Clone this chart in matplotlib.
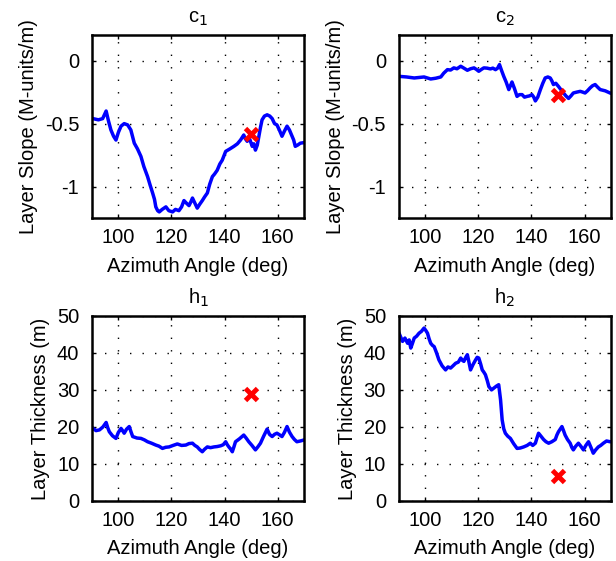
import numpy as np
import matplotlib
matplotlib.use("Agg")
import matplotlib.pyplot as plt

plt.rcParams['font.family'] = ['Liberation Sans', 'DejaVu Sans']

# layer slope c1 vs azimuth
c1_az = [90.4, 92.5, 94.1, 95.4, 96.3, 97.2, 98.2, 99.1, 100.0, 101.0, 102.2, 103.5, 104.7,
         106.0, 107.2, 108.5, 109.6, 111.0, 112.0, 112.9, 113.6, 114.1, 114.8, 115.4,
         116.5, 117.9, 119.0, 120.4, 121.5, 122.8, 123.8, 124.7, 125.6, 126.6, 127.3,
         127.9, 128.8, 129.7, 130.6, 131.6, 132.5, 133.5, 134.4, 135.4, 136.2, 137.2,
         138.2, 139.1, 140.4, 142.0, 143.5, 144.8, 146.0, 147.2, 147.8, 148.5, 149.4,
         150.4, 151.0, 151.6, 152.3, 152.9, 153.5, 154.1, 155.0, 156.0, 157.0, 157.9,
         158.8, 159.7, 160.6, 161.6, 162.5, 163.5, 164.4, 165.4, 166.0, 166.6, 167.5,
         168.5, 170.0]
c1_val = [-0.46, -0.47, -0.46, -0.40, -0.48, -0.55, -0.60, -0.63, -0.57, -0.52, -0.50, -0.51, -0.55,
          -0.655, -0.70, -0.76, -0.84, -0.92, -0.99, -1.05, -1.10, -1.16, -1.19, -1.20,
          -1.18, -1.16, -1.19, -1.20, -1.18, -1.19, -1.16, -1.11, -1.13, -1.15, -1.12,
          -1.09, -1.13, -1.17, -1.14, -1.11, -1.08, -1.05, -0.98, -0.92, -0.90, -0.87,
          -0.82, -0.79, -0.72, -0.70, -0.68, -0.66, -0.63, -0.59, -0.62, -0.64, -0.62,
          -0.68, -0.66, -0.71, -0.67, -0.60, -0.53, -0.47, -0.44, -0.43, -0.44, -0.46,
          -0.50, -0.51, -0.55, -0.60, -0.56, -0.52, -0.55, -0.60, -0.63, -0.68, -0.67,
          -0.655, -0.65]

# layer slope c2 vs azimuth
c2_az = [90.2, 93.0, 95.9, 99.6, 102.1, 104.0, 105.9, 107.0, 108.4, 109.6, 110.8, 112.0,
         113.4, 114.6, 115.9, 117.1, 118.4, 119.3, 120.2, 121.2, 122.1, 123.3, 124.6,
         125.5, 126.5, 127.3, 128.0, 128.8, 129.6, 130.5, 131.5, 132.1, 132.7, 133.6,
         134.6, 135.5, 136.5, 137.4, 138.4, 139.3, 140.2, 140.9, 141.5, 142.4, 143.4,
         144.3, 145.2, 146.2, 147.1, 147.7, 148.3, 149.2, 150.2, 151.1, 152.1, 153.0,
         154.0, 154.9, 155.8, 157.1, 158.4, 159.3, 160.2, 161.1, 162.1, 163.0, 164.0,
         164.9, 165.9, 167.8, 169.6, 170.0]
c2_val = [-0.125, -0.13, -0.138, -0.13, -0.146, -0.14, -0.13, -0.10, -0.072, -0.075, -0.058, -0.065,
          -0.045, -0.06, -0.077, -0.065, -0.058, -0.07, -0.085, -0.07, -0.058, -0.06, -0.066,
          -0.06, -0.072, -0.06, -0.032, -0.08, -0.125, -0.17, -0.23, -0.20, -0.17, -0.22,
          -0.284, -0.27, -0.27, -0.29, -0.284, -0.28, -0.27, -0.29, -0.32, -0.29, -0.23,
          -0.18, -0.138, -0.13, -0.138, -0.16, -0.19, -0.18, -0.205, -0.23, -0.257, -0.28,
          -0.30, -0.28, -0.257, -0.25, -0.244, -0.25, -0.257, -0.24, -0.217, -0.20, -0.19,
          -0.21, -0.23, -0.24, -0.257, -0.26]

# layer thickness h1 vs azimuth
h1_az = [90.4, 91.6, 92.9, 94.2, 95.4, 96.0, 96.6, 97.8, 99.1, 100.0, 101.0, 101.6,
         102.2, 103.1, 104.1, 104.8, 105.4, 107.0, 108.5, 109.8, 111.0, 112.5, 114.1,
         115.3, 116.6, 117.8, 119.1, 120.6, 122.2, 123.8, 125.4, 126.6, 127.9, 128.8,
         129.7, 130.6, 131.6, 132.5, 133.5, 134.7, 136.0, 137.2, 138.5, 139.5, 140.4,
         141.0, 141.6, 142.3, 142.9, 143.5, 144.1, 145.6, 147.2, 148.1, 149.1, 150.3,
         151.6, 152.5, 153.5, 154.7, 156.0, 156.9, 157.9, 158.8, 159.7, 160.6, 161.6,
         162.5, 163.5, 164.4, 165.4, 166.3, 167.2, 168.5, 170.0]
h1_val = [19.6, 19.0, 19.2, 20.0, 21.2, 19.8, 18.7, 17.6, 16.9, 18.5, 19.6, 19.0,
          18.3, 19.4, 20.1, 18.6, 17.4, 17.0, 16.9, 16.5, 16.0, 15.6, 15.1,
          14.8, 14.2, 14.5, 14.6, 15.0, 15.4, 15.0, 15.1, 15.5, 15.6, 15.0,
          14.6, 13.9, 13.3, 14.0, 14.6, 14.4, 14.6, 14.7, 14.9, 15.2, 16.0,
          15.2, 14.6, 14.0, 13.3, 14.6, 16.0, 16.8, 17.8, 17.0, 16.0, 15.0,
          13.8, 14.6, 15.6, 17.5, 19.4, 18.0, 17.4, 18.0, 18.3, 17.9, 17.4,
          18.5, 20.1, 18.6, 17.4, 16.6, 16.0, 16.2, 16.5]

# layer thickness h2 vs azimuth
h2_az = [90.2, 91.5, 92.4, 93.4, 94.0, 94.6, 95.2, 95.9, 96.8, 97.7, 98.6, 99.6,
         100.3, 100.9, 101.5, 102.1, 102.8, 103.4, 104.3, 105.2, 106.4, 107.7, 108.6,
         109.6, 110.5, 111.5, 112.5, 113.4, 114.0, 114.6, 115.3, 115.9, 116.5, 117.1,
         118.0, 119.0, 119.6, 120.2, 120.9, 121.5, 122.1, 122.7, 123.4, 124.0, 125.0,
         125.9, 126.8, 127.7, 128.4, 129.0, 129.6, 130.2, 131.1, 132.1, 133.3, 134.6,
         135.8, 137.1, 138.4, 139.6, 140.5, 141.5, 142.1, 142.7, 143.6, 144.6, 145.5,
         146.5, 147.7, 149.0, 149.6, 150.2, 151.5, 152.1, 152.7, 153.6, 154.6, 155.2,
         155.8, 156.7, 157.7, 158.6, 159.6, 160.5, 161.5, 162.4, 163.3, 164.2, 165.2,
         166.1, 167.1, 168.3, 169.6, 170.0]
h2_val = [45.3, 43.1, 44.0, 42.6, 43.5, 41.3, 42.5, 44.0, 44.5, 45.3, 45.8, 46.7,
          46.0, 45.3, 43.8, 42.6, 42.0, 41.7, 40.0, 38.1, 36.5, 35.4, 36.2,
          35.9, 36.5, 37.2, 37.5, 38.6, 38.0, 37.7, 38.8, 39.5, 37.5, 35.4,
          36.8, 38.1, 38.8, 38.6, 37.0, 35.4, 34.8, 34.1, 32.5, 30.9, 30.0,
          30.5, 31.0, 31.4, 27.3, 21.9, 19.5, 18.3, 17.5, 16.9, 15.5, 14.2,
          14.3, 14.6, 15.0, 15.6, 15.0, 15.6, 17.0, 18.3, 17.5, 16.6, 16.0,
          15.6, 16.0, 16.6, 17.8, 18.7, 20.1, 19.0, 17.8, 16.6, 15.6, 14.5,
          13.8, 14.8, 15.6, 14.8, 13.8, 15.0, 16.0, 14.5, 12.9, 13.8, 14.6,
          15.0, 15.6, 16.2, 16.0, 16.0]

# true values (red crosses)
true_az = 150
c1_true, c2_true, h1_true, h2_true = -0.58, -0.27, 28.8, 6.8

panels = [
    ("c$_1$", c1_az, c1_val, c1_true, "Layer Slope (M-units/m)"),
    ("c$_2$", c2_az, c2_val, c2_true, "Layer Slope (M-units/m)"),
    ("h$_1$", h1_az, h1_val, h1_true, "Layer Thickness (m)"),
    ("h$_2$", h2_az, h2_val, h2_true, "Layer Thickness (m)"),
]
positions = [
    [0.149, 0.611, 0.345, 0.326],
    [0.647, 0.611, 0.345, 0.326],
    [0.149, 0.107, 0.345, 0.330],
    [0.647, 0.107, 0.345, 0.330],
]

fig = plt.figure(figsize=(6.16, 5.61), dpi=100)
fs = 14.5

for i, (title, az, val, tv, ylab) in enumerate(panels):
    ax = fig.add_axes(positions[i])
    ax.plot(az, val, color='#0000ff', lw=2.5)
    ax.plot(true_az, tv, 'x', color='#ff0000', ms=9, mew=3.5)
    ax.set_xlim(90, 170)
    ax.set_xticks([100, 120, 140, 160])
    if i < 2:
        ax.set_ylim(-1.25, 0.2)
        ax.set_yticks([-1, -0.5, 0])
        ax.set_yticklabels(['-1', '-0.5', '0'])
    else:
        ax.set_ylim(0, 50)
        ax.set_yticks([0, 10, 20, 30, 40, 50])
    ax.grid(True, color='black', linestyle=(0, (1, 8)), linewidth=1.0)
    ax.tick_params(direction='in', length=3, width=1, labelsize=fs,
                   top=True, right=True)
    ax.tick_params(axis='x', pad=7)
    ax.tick_params(axis='y', pad=9)
    for s in ax.spines.values():
        s.set_linewidth(1.8)
    ax.set_title(title, fontsize=fs, pad=9)
    ax.set_xlabel("Azimuth Angle (deg)", fontsize=fs, labelpad=7)
    ax.set_ylabel(ylab, fontsize=fs, labelpad=5)

fig.savefig("out.png", dpi=100)
